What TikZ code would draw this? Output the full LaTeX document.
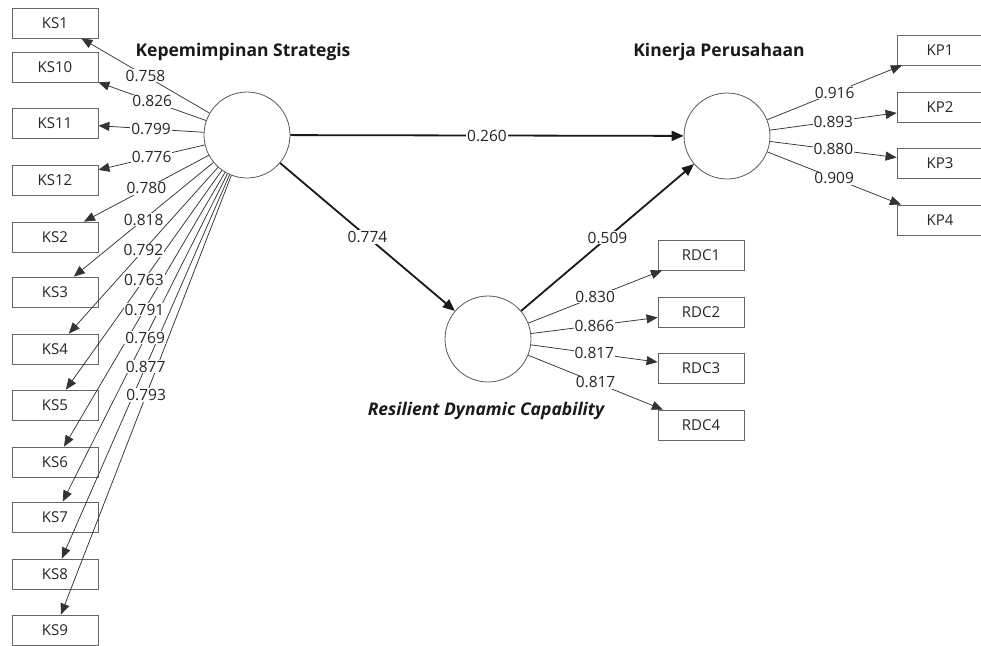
\documentclass[tikz,border=0pt]{standalone}
\usepackage{fontspec}
\setmainfont{Open Sans}
\usetikzlibrary{arrows.meta}
\begin{document}
\begin{tikzpicture}[x=1pt,y=-1pt,
  ind/.style={draw=black!60, line width=0.8pt, minimum width=86pt, minimum height=30pt, inner sep=0pt, font=\fontsize{15}{17}\selectfont, text=black!85},
  lv/.style={circle, draw=black!65, line width=0.8pt, minimum size=86pt, inner sep=0pt},
  load/.style={draw=black!80, line width=0.75pt, -{Triangle[length=11pt,width=9pt]}},
  struct/.style={draw=black!90, line width=1.8pt, -{Triangle[length=12pt,width=10pt]}},
  lbl/.style={fill=white, inner sep=1pt, font=\fontsize{15.5}{17}\selectfont, text=black!85},
  ttl/.style={font=\bfseries\fontsize{17.5}{20}\selectfont, text=black!90}
]
\useasboundingbox (0,0) rectangle (981,645);
% latent variables
\node[lv] (ks) at (247,135) {};
\node[lv] (kp) at (727,136) {};
\node[lv] (rdc) at (488,339) {};
% titles
\node[ttl] (tks) at (243,52) {Kepemimpinan Strategis};
\node[ttl] (tkp) at (719,52) {Kinerja Perusahaan};
\node[ttl, font=\bfseries\itshape\fontsize{17.5}{20}\selectfont] (trdc) at (486,411) {Resilient Dynamic Capability};
% KS indicators
\foreach \k/\y in {1/23,10/67,11/123,12/180,2/237,3/292,4/349,5/405,6/462,7/517,8/574,9/630}
  \node[ind] (KS\k) at (55,\y) {KS\k};
% KP indicators
\foreach \k/\y in {1/50,2/107,3/163,4/220}
  \node[ind] (KP\k) at (940,\y) {KP\k};
% RDC indicators
\foreach \k/\y in {1/255,2/312,3/368,4/425}
  \node[ind] (RDC\k) at (701,\y) {RDC\k};
% loading lines
\foreach \k in {1,10,11,12,2,3,4,5,6,7,8,9}
  \draw[load] (ks) -- (KS\k);
\foreach \k in {1,2,3,4}
  \draw[load] (kp) -- (KP\k);
\foreach \k in {1,2,3,4}
  \draw[load] (rdc) -- (RDC\k);
% structural paths
\draw[struct] (ks) -- (kp) node[lbl,pos=.5] (p1) {0.260};
\draw[struct] (ks) -- (rdc) node[lbl,pos=.5] (p2) {0.774};
\draw[struct] (rdc) -- (kp) node[lbl,pos=.5] (p3) {0.509};
% loading labels
\foreach \k/\v in {1/0.758,10/0.826,11/0.799,12/0.776,2/0.780,3/0.818,4/0.792,5/0.763,6/0.791,7/0.769,8/0.877,9/0.793}
  \path (ks) -- (KS\k) node[lbl,pos=.5] (lks\k) {\v};
\foreach \k/\v in {1/0.916,2/0.893,3/0.880,4/0.909}
  \path (kp) -- (KP\k) node[lbl,pos=.5] (lkp\k) {\v};
\foreach \k/\v in {1/0.830,2/0.866,3/0.817,4/0.817}
  \path (rdc) -- (RDC\k) node[lbl,pos=.5] (lrdc\k) {\v};
\end{tikzpicture}
\end{document}
